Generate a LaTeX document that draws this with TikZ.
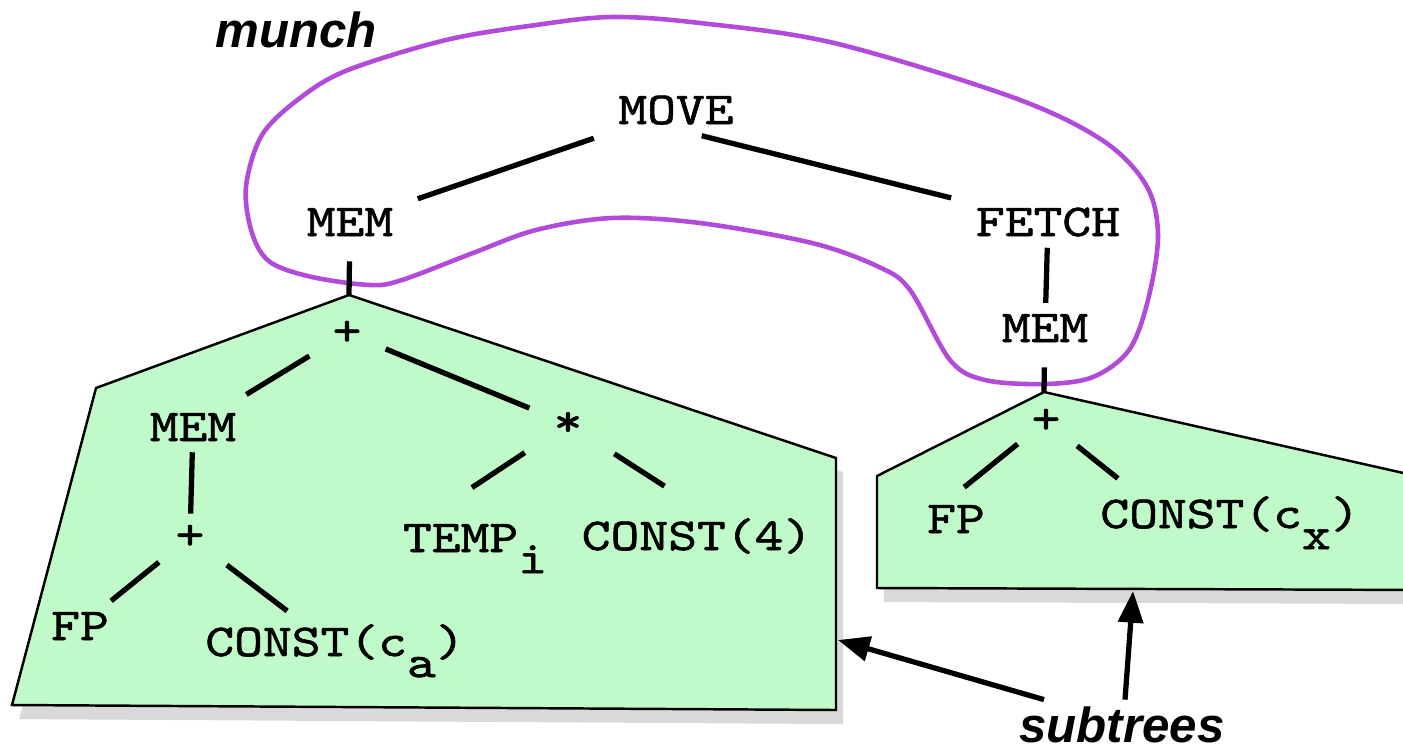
\documentclass[tikz,border=0pt]{standalone}
\usepackage{fontspec}
\usetikzlibrary{arrows.meta, calc, shadows}
\definecolor{subtreegreen}{RGB}{193,250,201}
\definecolor{munchpurple}{RGB}{178,75,218}
\newfontfamily\labelfont{Liberation Sans}
\newfontfamily\treefamily{lmmono10-regular.otf}[FakeStretch=1.2, FakeBold=1.3]
\newcommand{\treefont}{\treefamily\fontsize{13}{15}\selectfont}
\newcommand{\lowsub}[1]{\raisebox{-6pt}{#1}}

\begin{document}
\begin{tikzpicture}[x=0.01cm, y=-0.01cm,
    >={Triangle[length=9pt, width=7pt]},
    tnode/.style={font=\treefont, inner sep=3pt, anchor=base},
    sym/.style={font=\treefont, inner sep=3pt, anchor=center},
    tedge/.style={line width=1.5pt, shorten <=4pt, shorten >=4pt},
    subtree/.style={draw, line width=0.7pt, fill=subtreegreen, drop shadow={shadow xshift=2pt, shadow yshift=-4pt, opacity=0.3}},
    tag/.style={font=\labelfont\bfseries\itshape\fontsize{14}{16}\selectfont, inner sep=0pt, anchor=base},
]
    \useasboundingbox (0,0) rectangle (1403,748);

    % subtree boxes
    \coordinate (ltop) at (349,295);
    \coordinate (rtop) at (1044,392);
    \draw[subtree] (96,388) -- (ltop) -- (836,458) -- (836,710) -- (12,705) -- cycle;
    \draw[subtree] (877,476) -- (rtop) -- (1430,479) -- (1430,590) -- (877,588) -- cycle;

    % munch region
    \draw[munchpurple, line width=1.3pt] plot[smooth cycle, tension=0.55] coordinates {
        (612,17) (700,23) (834,43) (1012,97) (1102,140) (1146,185) (1158,235) (1148,300)
        (1129,350) (1093,377) (1045,384) (985,380) (950,360) (910,290) (879,267) (812,243)
        (700,223) (612,218) (536,230) (473,253) (402,280) (370,285) (312,277) (270,262)
        (252,233) (246,187) (262,135) (300,98) (348,70) (446,40) (536,25)};

    % tree
    \node[tnode] (move) at (676,124) {MOVE};
    \node[tnode] (mema) at (350,236) {MEM};
    \node[tnode] (fetch) at (1048,236) {FETCH};
    \node[tnode] (memb) at (1045,342) {MEM};
    \node[sym] (plusa) at (347,333) {+};
    \node[tnode] (memc) at (193,441) {MEM};
    \node[sym] (times) at (568,424) {*};
    \node[sym] (plusb) at (190,537) {+};
    \node[tnode] (fpa) at (80,640) {FP};
    \node[tnode] (consta) at (335,656) {CONST(c\lowsub{a})};
    \node[tnode] (temp) at (475,552) {TEMP\lowsub{i}};
    \node[tnode] (constf) at (697,550) {CONST(4)};
    \node[sym] (plusc) at (1046,421) {+};
    \node[tnode] (fpb) at (956,533) {FP};
    \node[tnode] (constx) at (1230,528) {CONST(c\lowsub{x})};

    \draw[tedge] (move) -- (mema);
    \draw[tedge, shorten <=0pt] (move.-45) -- (fetch);
    \draw[tedge, shorten >=0pt] (mema) -- (ltop);
    \draw[tedge, shorten <=0pt, shorten >=0pt] (fetch) -- (memb);
    \draw[tedge, shorten >=0pt] (memb) -- (rtop);
    \draw[tedge] (plusa) -- (memc);
    \draw[tedge] (plusa) -- (times);
    \draw[tedge, shorten <=0pt, shorten >=0pt] (memc) -- (plusb);
    \draw[tedge, shorten <=6pt, shorten >=13pt] (times) -- (temp.139);
    \draw[tedge, shorten <=7pt, shorten >=11pt] (times) -- (constf.north);
    \draw[tedge, shorten <=2pt, shorten >=0pt] (plusb) -- (fpa);
    \draw[tedge, shorten >=1pt] (plusb) -- (consta.140);
    \draw[tedge, shorten <=1pt, shorten >=3pt] (plusc) -- (fpb.north);
    \draw[tedge, shorten <=2pt, shorten >=3pt] (plusc) -- ([xshift=0.37cm]constx.north west);

    % labels
    \node[tag] (munch) at (296,47) {munch};
    \node[tag] (subtrees) at (1122,742) {subtrees};
    \coordinate (lhit) at (838,640);
    \coordinate (rhit) at (1133,591);
    \draw[->, line width=1.5pt] ($(subtrees.north)+(-78,-6)$) -- (lhit);
    \draw[->, line width=1.5pt] ($(subtrees.north)+(3,-6)$) -- (rhit);
\end{tikzpicture}
\end{document}
